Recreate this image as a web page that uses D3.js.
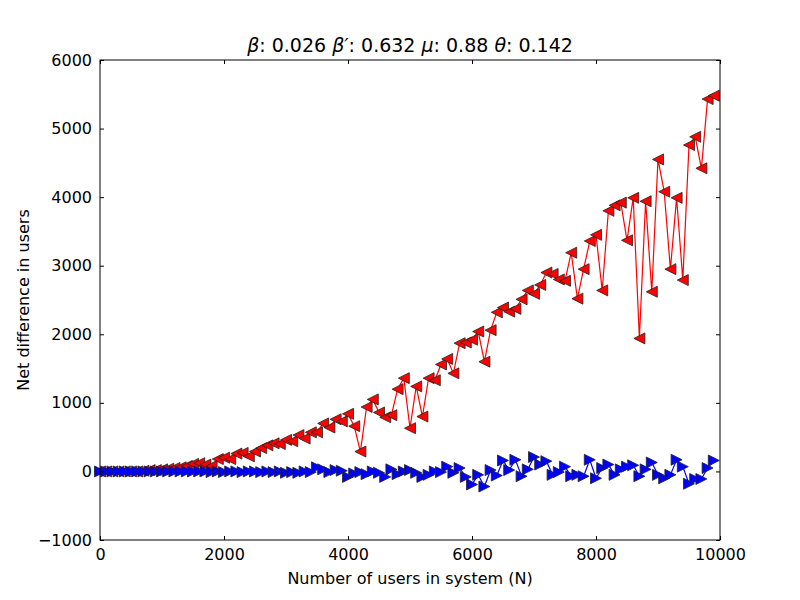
<!DOCTYPE html><html><head><script src="https://d3js.org/d3.v7.min.js"></script>
<style>body{margin:0;background:#fff}text{font-family:"DejaVu Sans",sans-serif}</style></head><body>
<svg id="c" width="800" height="600"></svg>
<script>
const nValues = d3.range(0, 10000, 100);
const redValues = [0,0,0,0,0,0,0,10,20,20,30,40,50,60,80,110,120,100,80,180,200,180,260,270,220,290,340,380,410,400,460,440,530,480,570,570,700,640,760,730,840,660,290,940,1050,860,790,820,1200,1360,630,1240,800,1360,1330,1560,1640,1430,1870,1880,1920,2040,1600,2060,2320,2390,2330,2370,2510,2640,2590,2720,2900,2880,2800,2780,3190,2520,2950,3360,3450,2640,3800,3880,3920,3370,3990,1940,3940,2620,4550,4080,2950,3990,2790,4760,4880,4420,5430,5480];
const blueValues = [0,0,0,0,0,0,0,0,0,0,0,0,0,0,0,0,0,0,-10,0,-10,0,0,-10,0,0,-10,0,-10,0,-20,-10,-20,0,-10,60,30,-10,20,10,-80,-30,-10,-40,0,-20,-80,30,-40,0,20,-20,-80,-50,0,-10,70,-20,50,-80,-190,-50,-220,20,-60,160,20,170,-70,30,210,100,150,-50,-10,70,-70,-50,-70,170,-100,50,100,-50,30,70,90,-70,30,130,-50,-100,-50,170,70,-180,-110,-110,50,160];
const xTicks = [0,2000,4000,6000,8000,10000];
const yTicks = [-1000,0,1000,2000,3000,4000,5000,6000];
const svg = d3.select("#c");
const x = d3.scaleLinear().domain([0,10000]).range([100,720]);
const y = d3.scaleLinear().domain([-1000,6000]).range([540,60]);
const line = d3.line().x((d,i)=>x(nValues[i])).y(d=>y(d));
function series(vals,color,dir){
  svg.append("path").attr("d",line(vals)).attr("fill","none").attr("stroke",color).attr("stroke-width",1.2);
  const s=5.5;
  const tri = dir<0 ? `M${-s},0L${s},${-s}L${s},${s}Z` : `M${s},0L${-s},${-s}L${-s},${s}Z`;
  svg.append("g").selectAll("path").data(vals).join("path")
   .attr("transform",(d,i)=>`translate(${x(nValues[i])},${y(d)})`)
   .attr("d",tri).attr("fill",color).attr("stroke","#222").attr("stroke-width",0.8);
}
series(redValues,"#ff0000",-1);
series(blueValues,"#0000ff",1);
svg.append("rect").attr("x",100).attr("y",60).attr("width",620).attr("height",480).attr("fill","none").attr("stroke","#000");
const gx=svg.append("g").attr("transform","translate(0,540)").call(d3.axisBottom(x).tickValues(xTicks).tickSizeInner(-4).tickSizeOuter(0).tickPadding(9).tickFormat(d=>String(d)));
const gx2=svg.append("g").attr("transform","translate(0,60)").call(d3.axisTop(x).tickValues(xTicks).tickSizeInner(-4).tickSizeOuter(0).tickFormat(""));
const gy=svg.append("g").attr("transform","translate(100,0)").call(d3.axisLeft(y).tickValues(yTicks).tickSizeInner(-4).tickSizeOuter(0).tickPadding(8).tickFormat(d=>d<0?"\u2212"+(-d):String(d)));
const gy2=svg.append("g").attr("transform","translate(720,0)").call(d3.axisRight(y).tickValues(yTicks).tickSizeInner(-4).tickSizeOuter(0).tickFormat(""));
[gx,gx2,gy,gy2].forEach(g=>{g.select(".domain").remove();g.selectAll("text").attr("font-size",16).attr("fill","#000").attr("font-family","DejaVu Sans");});
svg.append("text").attr("x",410).attr("y",584).attr("text-anchor","middle").attr("font-size",16).text("Number of users in system (N)");
svg.append("text").attr("transform","translate(29,300) rotate(-90)").attr("text-anchor","middle").attr("font-size",16).text("Net difference in users");
const t=svg.append("text").attr("x",410).attr("y",52).attr("text-anchor","middle").attr("font-size",19);
[["β",1],[": 0.026 ",0],["β′",1],[": 0.632 ",0],["μ",1],[": 0.88 ",0],["θ",1],[": 0.142",0]].forEach(([s,it])=>t.append("tspan").attr("font-style",it?"italic":"normal").text(s));
</script></body></html>
